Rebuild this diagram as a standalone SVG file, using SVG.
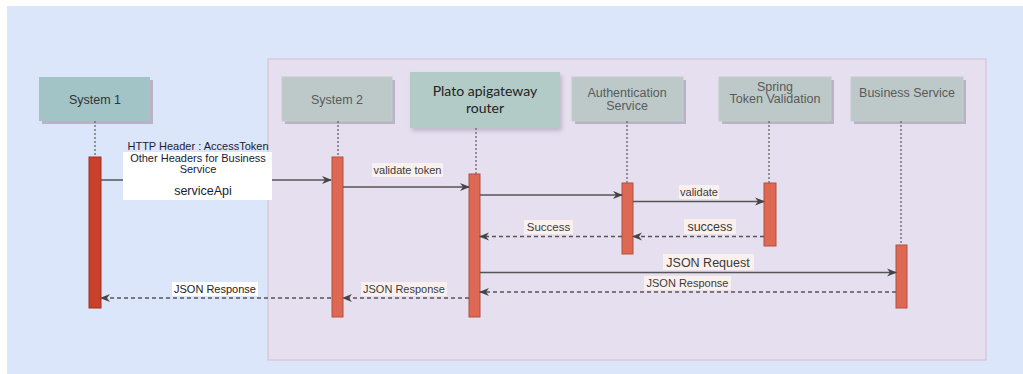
<svg xmlns="http://www.w3.org/2000/svg" width="1023" height="374" viewBox="0 0 1023 374">
<defs>
<style>
.lbl{font-family:"Liberation Sans",Arial,sans-serif;fill:#3a3a3a;text-anchor:middle}
.head{font-family:"Liberation Sans",Arial,sans-serif;font-size:12.5px;fill:#5a5a5a;text-anchor:middle}
.box{fill:#bdc9c9;stroke:#c4cccc;stroke-width:1}
.shadow{fill:#b9b3c6}
.life{stroke:#666;stroke-width:1.3;stroke-dasharray:2 2;fill:none}
.bar{fill:#dd6955;stroke:#b5503f;stroke-width:1}
.msg{stroke:#555;stroke-width:1.3;fill:none;marker-end:url(#arr)}
.ret{stroke:#555;stroke-width:1.3;fill:none;stroke-dasharray:4 3;marker-end:url(#arr)}
.lbg{fill:#faf1ef}
</style>
<marker id="arr" viewBox="0 0 10 10" refX="9" refY="5" markerWidth="10" markerHeight="10" markerUnits="userSpaceOnUse" orient="auto">
<path d="M0,1 L10,5 L0,9 L3,5 Z" fill="#444"/>
</marker>
<filter id="soft" x="-10%" y="-10%" width="130%" height="140%">
<feDropShadow dx="2" dy="3" stdDeviation="2" flood-color="#8a8a9a" flood-opacity="0.45"/>
</filter>
</defs>
<rect x="0" y="0" width="1023" height="374" fill="#ffffff"/>
<rect x="7" y="6" width="1016" height="368" fill="#dce6fb"/>
<rect x="268" y="59" width="718" height="301" fill="#e6dff0" stroke="#d8c4d4" stroke-width="1.2"/>

<g id="system1">
<rect x="42" y="80" width="111" height="44" class="shadow"/>
<rect x="39" y="77" width="111" height="44" fill="#a3c4c7"/>
<text x="95" y="103.5" class="lbl" style="font-size:12.5px;fill:#333">System 1</text>
<line x1="95" y1="121" x2="95" y2="157" class="life"/>
<rect x="89" y="157" width="12" height="151" fill="#c9412a" stroke="#9e3020"/>
</g>
<g id="system2">
<rect x="285" y="80" width="110" height="44" class="shadow"/>
<rect x="282" y="77" width="110" height="44" class="box"/>
<text x="337" y="103.5" class="head">System 2</text>
<line x1="338" y1="121" x2="338" y2="157" class="life"/>
<rect x="332" y="157" width="11" height="160" class="bar"/>
</g>
<g id="plato">
<rect x="410" y="72" width="150" height="56" fill="#b3cbc7" filter="url(#soft)"/>
<text x="485" y="96" class="lbl" style="font-family:Lato,'Liberation Sans',sans-serif;font-size:14px;fill:#222">Plato apigateway</text>
<text x="485" y="113" class="lbl" style="font-family:Lato,'Liberation Sans',sans-serif;font-size:14px;fill:#222">router</text>
<line x1="476" y1="128" x2="476" y2="174" class="life"/>
<rect x="469" y="174" width="11" height="143" class="bar"/>
</g>
<g id="auth">
<rect x="575" y="80" width="111" height="44" class="shadow"/>
<rect x="572" y="77" width="111" height="44" class="box"/>
<text x="627" y="97" class="head">Authentication</text>
<text x="627" y="109.5" class="head">Service</text>
<line x1="627" y1="121" x2="627" y2="183" class="life"/>
<rect x="622" y="183" width="11" height="71" class="bar"/>
</g>
<g id="spring">
<rect x="722" y="80" width="112" height="44" class="shadow"/>
<rect x="719" y="77" width="112" height="44" class="box"/>
<text x="775" y="90.5" class="head">Spring</text>
<text x="775" y="103" class="head">Token Validation</text>
<line x1="769" y1="121" x2="769" y2="183" class="life"/>
<rect x="764" y="183" width="12" height="63" class="bar"/>
</g>
<g id="business">
<rect x="854" y="80" width="112" height="44" class="shadow"/>
<rect x="851" y="77" width="112" height="44" class="box"/>
<text x="907" y="96.5" class="head">Business Service</text>
<line x1="901" y1="121" x2="901" y2="245" class="life"/>
<rect x="896" y="245" width="11" height="63" class="bar"/>
</g>

<g id="connectors">
<line x1="101" y1="180" x2="331" y2="180" class="msg"/>
<line x1="343" y1="187" x2="469" y2="187" class="msg"/>
<line x1="480" y1="195" x2="622" y2="195" class="msg"/>
<line x1="633" y1="201.5" x2="764" y2="201.5" class="msg"/>
<line x1="764" y1="236.5" x2="633" y2="236.5" class="ret"/>
<line x1="622" y1="236.5" x2="480" y2="236.5" class="ret"/>
<line x1="480" y1="272.5" x2="896" y2="272.5" class="msg"/>
<line x1="896" y1="292" x2="480" y2="292" class="ret"/>
<line x1="469" y1="298" x2="343" y2="298" class="ret"/>
<line x1="331" y1="298" x2="101" y2="298" class="ret"/>

<rect x="123" y="152" width="149" height="48" fill="#ffffff"/>
<text x="198" y="150" class="lbl" style="font-size:11px;fill:#1b1b33">HTTP Header : AccessToken</text>
<text x="198" y="162" class="lbl" style="font-size:11px;fill:#1b1b33">Other Headers for Business</text>
<text x="198" y="173" class="lbl" style="font-size:11px;fill:#1b1b33">Service</text>
<text x="203" y="195" class="lbl" style="font-size:12.5px;fill:#1b1b33">serviceApi</text>

<rect x="372" y="163" width="71" height="14" class="lbg"/>
<text x="407.5" y="174" class="lbl" style="font-size:11px">validate token</text>

<rect x="679" y="185" width="40" height="14" class="lbg"/>
<text x="699" y="196" class="lbl" style="font-size:11px">validate</text>

<rect x="684" y="219" width="52" height="15" class="lbg"/>
<text x="710" y="230.5" class="lbl" style="font-size:12.5px">success</text>

<rect x="524" y="220" width="49" height="14" class="lbg"/>
<text x="548.5" y="231" class="lbl" style="font-size:11.5px">Success</text>

<rect x="663" y="254" width="91" height="16" class="lbg"/>
<text x="708" y="266.5" class="lbl" style="font-size:12.5px">JSON Request</text>

<rect x="644" y="276" width="87" height="14" class="lbg"/>
<text x="687.5" y="287" class="lbl" style="font-size:11px">JSON Response</text>

<rect x="361" y="282" width="86" height="14" class="lbg"/>
<text x="404" y="293" class="lbl" style="font-size:11px">JSON Response</text>

<rect x="172" y="282" width="86" height="14" fill="#ffffff"/>
<text x="215" y="293" class="lbl" style="font-size:11px;fill:#222">JSON Response</text>
</g>
</svg>
